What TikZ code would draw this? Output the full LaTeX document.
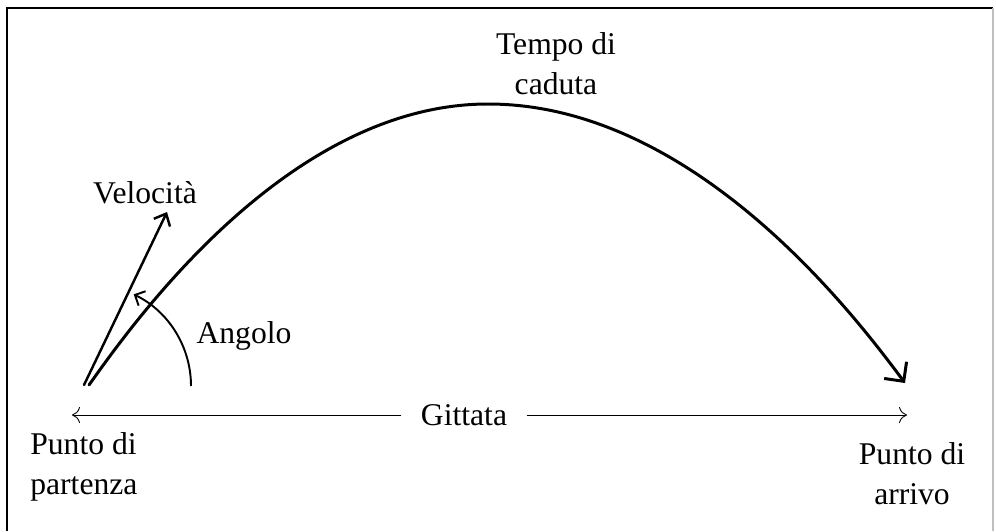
\documentclass[tikz,border=0pt]{standalone}
\usepackage{fontspec}
\setmainfont{Liberation Serif}
\usepackage{tikz}
\usetikzlibrary{arrows.meta, positioning}
\tikzset{
      font=\fontsize{18}{22.7}\selectfont,     % serif text everywhere
      txt/.style          = {inner sep=0pt, align=center},
      trajectory/.style   = {line width=1.7pt, line cap=round,
                             -{Straight Barb[length=2.8mm, width=5.6mm]}},
      vector/.style       = {line width=1.4pt, line cap=round,
                             -{Straight Barb[length=2mm, width=3.6mm]}},
      anglearc/.style     = {line width=1.1pt,
                             -{Straight Barb[length=1.6mm, width=3.2mm]}},
      rangeline/.style    = {line width=0.5pt,
                             -{Computer Modern Rightarrow[length=1.6mm, width=3.2mm]}}
    }

\begin{document}
\begin{tikzpicture}[x=0.02cm, y=-0.02cm]
  \useasboundingbox (0,0) rectangle (996,531);
  % Frame
  \draw[line width=1.2pt] (7,531) -- (7,8) -- (993,8);
  \draw[gray!50, line width=0.6pt] (993,8) -- (993,531);
  % Key points
  \coordinate (launch) at (89,385);
  \coordinate (vbase) at (84,385);
  \coordinate (vtip) at (167,212);
  \coordinate (arcstart) at (191,386);
  \coordinate (landing) at (905,383);
  \coordinate (rleft) at (72,415);
  \coordinate (rright) at (907,415);
  % Trajectory
  \draw[trajectory] (launch) parabola bend (488,104) (landing);
  % Velocity vector
  \draw[vector] (vbase) -- (vtip);
  % Launch angle
  \draw[anglearc] (arcstart) arc[start angle=0, end angle=-64, radius=102];
  % Range
  \node[txt, inner xsep=11pt] (gittata) at (464,415) {Gittata};
  \draw[rangeline] (gittata.west) -- (rleft);
  \draw[rangeline] (gittata.east) -- (rright);
  % Labels
  \node[txt, anchor=north] (falltime) at (556,32) {Tempo di\\caduta};
  \node[txt] (velocity) at (145,193) {Velocità};
  \node[txt] (angle) at (244,336) {Angolo};
  \node[txt, align=left, anchor=north west] (departure) at (30,432) {Punto di\\partenza};
  \node[txt, anchor=north] (arrival) at (912,442) {Punto di\\arrivo};
\end{tikzpicture}
\end{document}
